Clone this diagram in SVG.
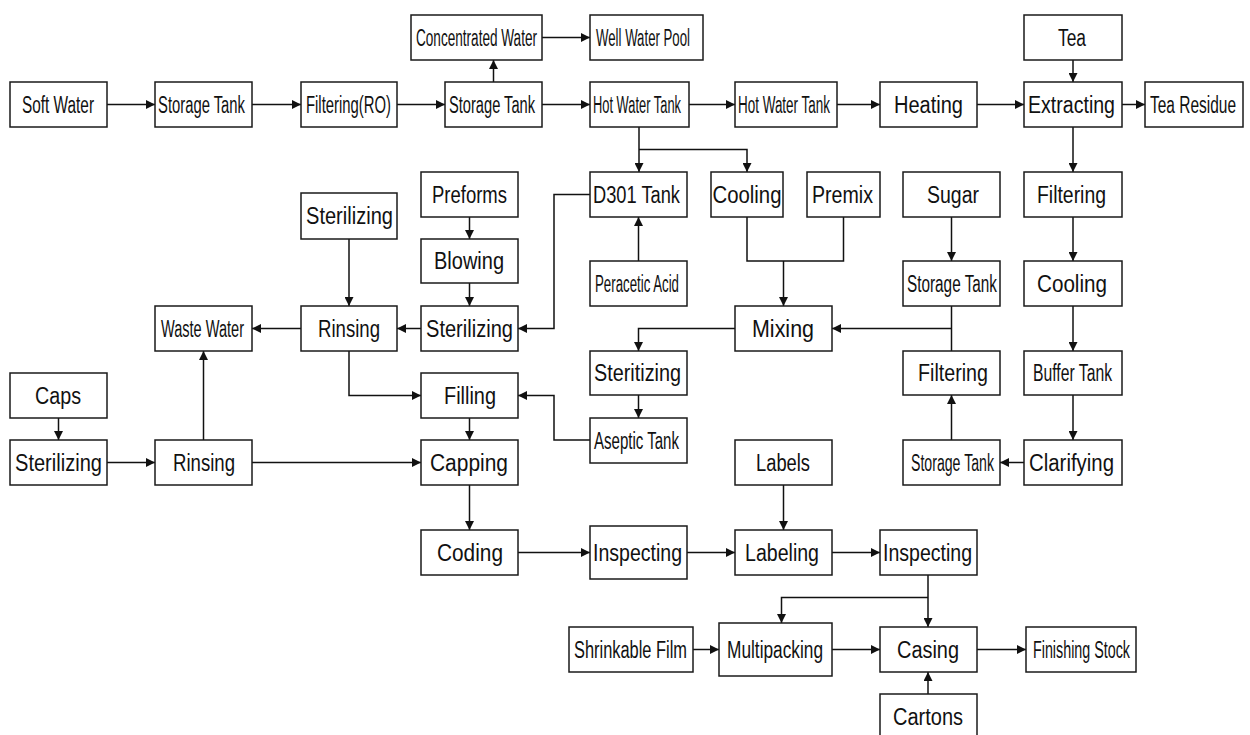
<svg xmlns="http://www.w3.org/2000/svg" width="1250" height="735" viewBox="0 0 1250 735">
<style>
.n rect{fill:#fff;stroke:#1a1a1a;stroke-width:1.5}
.n text{font-family:"Liberation Sans","DejaVu Sans",sans-serif;font-size:23px;fill:#111}
#connectors path{fill:none;stroke:#111;stroke-width:1.5}
#connectors path.a{marker-end:url(#arr)}
</style>
<defs>
<marker id="arr" viewBox="0 0 10 10" refX="10" refY="5" markerWidth="9" markerHeight="9" markerUnits="userSpaceOnUse" orient="auto">
<path d="M0,0 L10,5 L0,10 z" fill="#111"/>
</marker>
</defs>
<rect width="1250" height="735" fill="#fff"/>
<g id="connectors">
<path class="a" d="M107,104.5 H155"/>
<path class="a" d="M252,104.5 H301"/>
<path class="a" d="M397,104.5 H445"/>
<path class="a" d="M493.5,82 V60"/>
<path class="a" d="M542,37.5 H590"/>
<path class="a" d="M542,104.5 H590"/>
<path class="a" d="M689,104.5 H735"/>
<path class="a" d="M837,104.5 H880"/>
<path class="a" d="M977,104.5 H1024"/>
<path class="a" d="M1122,104.5 H1145"/>
<path class="a" d="M1073,60 V82"/>
<path class="a" d="M1073,127 V172"/>
<path class="a" d="M1073,217 V261"/>
<path class="a" d="M1073,306 V351"/>
<path class="a" d="M1073,395 V440"/>
<path class="a" d="M1024,462.5 H1000"/>
<path class="a" d="M951.5,440 V395"/>
<path class="a" d="M951.5,217 V261"/>
<path d="M951.5,306 V351"/>
<path class="a" d="M951.5,328.5 H832"/>
<path d="M747,217 V261 H843.5 V217"/>
<path class="a" d="M783.5,261 V306"/>
<path class="a" d="M639,127 V172"/>
<path class="a" d="M639,149.5 H747 V172"/>
<path class="a" d="M590,194.5 H554 V328.5 H518"/>
<path class="a" d="M638.5,261 V217"/>
<path class="a" d="M469.5,217 V239"/>
<path class="a" d="M469.5,283 V306"/>
<path class="a" d="M421,328.5 H397"/>
<path class="a" d="M349,239 V306"/>
<path class="a" d="M301,328.5 H252"/>
<path class="a" d="M349,351 V395.5 H421"/>
<path class="a" d="M58.5,418 V440"/>
<path class="a" d="M107,462.5 H155"/>
<path class="a" d="M203.5,440 V351"/>
<path class="a" d="M252,462.5 H421"/>
<path class="a" d="M469.5,418 V440"/>
<path class="a" d="M590,440 H554 V395.5 H518"/>
<path class="a" d="M735,328.5 H638.5 V351"/>
<path class="a" d="M638.5,395 V418"/>
<path class="a" d="M469.5,485 V530"/>
<path class="a" d="M518,552.5 H590"/>
<path class="a" d="M687,552.5 H735"/>
<path class="a" d="M783.5,485 V530"/>
<path class="a" d="M832,552.5 H880"/>
<path class="a" d="M928,575 V627"/>
<path class="a" d="M928,597.5 H781.5 V623"/>
<path class="a" d="M693,649.5 H719"/>
<path class="a" d="M832,649.5 H880"/>
<path class="a" d="M977,649.5 H1026"/>
<path class="a" d="M928,694 V672"/>
</g>
<g id="soft-water" class="n"><rect x="10" y="82" width="97" height="45"/><text x="22" y="112.5" textLength="72" lengthAdjust="spacingAndGlyphs">Soft Water</text></g>
<g id="storage-tank-1" class="n"><rect x="155" y="82" width="97" height="45"/><text x="158" y="112.5" textLength="87" lengthAdjust="spacingAndGlyphs">Storage Tank</text></g>
<g id="filtering-ro" class="n"><rect x="301" y="82" width="96" height="45"/><text x="306" y="112.5" textLength="85" lengthAdjust="spacingAndGlyphs">Filtering(RO)</text></g>
<g id="storage-tank-2" class="n"><rect x="445" y="82" width="97" height="45"/><text x="449" y="112.5" textLength="86" lengthAdjust="spacingAndGlyphs">Storage Tank</text></g>
<g id="concentrated-water" class="n"><rect x="411" y="15" width="131" height="45"/><text x="416" y="45.5" textLength="121" lengthAdjust="spacingAndGlyphs">Concentrated Water</text></g>
<g id="well-water-pool" class="n"><rect x="590" y="15" width="113" height="45"/><text x="596" y="45.5" textLength="94" lengthAdjust="spacingAndGlyphs">Well Water Pool</text></g>
<g id="hot-water-tank-1" class="n"><rect x="590" y="82" width="99" height="45"/><text x="593" y="112.5" textLength="88" lengthAdjust="spacingAndGlyphs">Hot Water Tank</text></g>
<g id="hot-water-tank-2" class="n"><rect x="735" y="82" width="102" height="45"/><text x="738" y="112.5" textLength="92" lengthAdjust="spacingAndGlyphs">Hot Water Tank</text></g>
<g id="heating" class="n"><rect x="880" y="82" width="97" height="45"/><text x="894" y="112.5" textLength="69" lengthAdjust="spacingAndGlyphs">Heating</text></g>
<g id="extracting" class="n"><rect x="1024" y="82" width="98" height="45"/><text x="1028" y="112.5" textLength="87" lengthAdjust="spacingAndGlyphs">Extracting</text></g>
<g id="tea" class="n"><rect x="1024" y="15" width="98" height="45"/><text x="1058" y="45.5" textLength="28" lengthAdjust="spacingAndGlyphs">Tea</text></g>
<g id="tea-residue" class="n"><rect x="1145" y="82" width="98" height="45"/><text x="1150" y="112.5" textLength="86" lengthAdjust="spacingAndGlyphs">Tea Residue</text></g>
<g id="filtering-tea" class="n"><rect x="1024" y="172" width="98" height="45"/><text x="1037" y="202.5" textLength="69" lengthAdjust="spacingAndGlyphs">Filtering</text></g>
<g id="cooling-tea" class="n"><rect x="1024" y="261" width="98" height="45"/><text x="1037" y="291.5" textLength="70" lengthAdjust="spacingAndGlyphs">Cooling</text></g>
<g id="buffer-tank" class="n"><rect x="1024" y="351" width="98" height="44"/><text x="1033" y="381" textLength="79" lengthAdjust="spacingAndGlyphs">Buffer Tank</text></g>
<g id="clarifying" class="n"><rect x="1024" y="440" width="98" height="45"/><text x="1029" y="470.5" textLength="85" lengthAdjust="spacingAndGlyphs">Clarifying</text></g>
<g id="sugar" class="n"><rect x="903" y="172" width="97" height="45"/><text x="927" y="202.5" textLength="52" lengthAdjust="spacingAndGlyphs">Sugar</text></g>
<g id="storage-tank-sugar" class="n"><rect x="903" y="261" width="97" height="45"/><text x="907" y="291.5" textLength="90" lengthAdjust="spacingAndGlyphs">Storage Tank</text></g>
<g id="filtering-sugar" class="n"><rect x="903" y="351" width="97" height="44"/><text x="918" y="381" textLength="70" lengthAdjust="spacingAndGlyphs">Filtering</text></g>
<g id="storage-tank-3" class="n"><rect x="903" y="440" width="97" height="45"/><text x="911" y="470.5" textLength="83" lengthAdjust="spacingAndGlyphs">Storage Tank</text></g>
<g id="d301-tank" class="n"><rect x="590" y="172" width="97" height="45"/><text x="593" y="202.5" textLength="87" lengthAdjust="spacingAndGlyphs">D301 Tank</text></g>
<g id="cooling-mid" class="n"><rect x="711" y="172" width="72" height="45"/><text x="712.5" y="202.5" textLength="69" lengthAdjust="spacingAndGlyphs">Cooling</text></g>
<g id="premix" class="n"><rect x="807" y="172" width="73" height="45"/><text x="812" y="202.5" textLength="61" lengthAdjust="spacingAndGlyphs">Premix</text></g>
<g id="peracetic-acid" class="n"><rect x="590" y="261" width="97" height="45"/><text x="595" y="291.5" textLength="84" lengthAdjust="spacingAndGlyphs">Peracetic Acid</text></g>
<g id="mixing" class="n"><rect x="735" y="306" width="97" height="45"/><text x="752" y="336.5" textLength="62" lengthAdjust="spacingAndGlyphs">Mixing</text></g>
<g id="steritizing" class="n"><rect x="590" y="351" width="97" height="44"/><text x="594" y="381" textLength="87" lengthAdjust="spacingAndGlyphs">Steritizing</text></g>
<g id="aseptic-tank" class="n"><rect x="590" y="418" width="97" height="45"/><text x="594" y="448.5" textLength="85" lengthAdjust="spacingAndGlyphs">Aseptic Tank</text></g>
<g id="labels" class="n"><rect x="735" y="440" width="97" height="45"/><text x="756" y="470.5" textLength="54" lengthAdjust="spacingAndGlyphs">Labels</text></g>
<g id="preforms" class="n"><rect x="421" y="172" width="97" height="45"/><text x="432" y="202.5" textLength="75" lengthAdjust="spacingAndGlyphs">Preforms</text></g>
<g id="blowing" class="n"><rect x="421" y="239" width="97" height="44"/><text x="434" y="269" textLength="70" lengthAdjust="spacingAndGlyphs">Blowing</text></g>
<g id="sterilizing-bottle" class="n"><rect x="421" y="306" width="97" height="45"/><text x="426" y="336.5" textLength="87" lengthAdjust="spacingAndGlyphs">Sterilizing</text></g>
<g id="filling" class="n"><rect x="421" y="373" width="97" height="45"/><text x="444" y="403.5" textLength="52" lengthAdjust="spacingAndGlyphs">Filling</text></g>
<g id="capping" class="n"><rect x="421" y="440" width="97" height="45"/><text x="430" y="470.5" textLength="78" lengthAdjust="spacingAndGlyphs">Capping</text></g>
<g id="coding" class="n"><rect x="421" y="530" width="97" height="45"/><text x="437" y="560.5" textLength="66" lengthAdjust="spacingAndGlyphs">Coding</text></g>
<g id="inspecting-1" class="n"><rect x="590" y="526" width="97" height="53"/><text x="593" y="560.5" textLength="89" lengthAdjust="spacingAndGlyphs">Inspecting</text></g>
<g id="labeling" class="n"><rect x="735" y="530" width="97" height="45"/><text x="745" y="560.5" textLength="74" lengthAdjust="spacingAndGlyphs">Labeling</text></g>
<g id="inspecting-2" class="n"><rect x="880" y="530" width="97" height="45"/><text x="883" y="560.5" textLength="89" lengthAdjust="spacingAndGlyphs">Inspecting</text></g>
<g id="multipacking" class="n"><rect x="719" y="623" width="113" height="53"/><text x="727" y="657.5" textLength="96" lengthAdjust="spacingAndGlyphs">Multipacking</text></g>
<g id="shrinkable-film" class="n"><rect x="569" y="627" width="124" height="45"/><text x="574" y="657.5" textLength="113" lengthAdjust="spacingAndGlyphs">Shrinkable Film</text></g>
<g id="casing" class="n"><rect x="880" y="627" width="97" height="45"/><text x="897" y="657.5" textLength="62" lengthAdjust="spacingAndGlyphs">Casing</text></g>
<g id="finishing-stock" class="n"><rect x="1026" y="627" width="110" height="45"/><text x="1033" y="657.5" textLength="97" lengthAdjust="spacingAndGlyphs">Finishing Stock</text></g>
<g id="cartons" class="n"><rect x="880" y="694" width="97" height="45"/><text x="893" y="724.5" textLength="70" lengthAdjust="spacingAndGlyphs">Cartons</text></g>
<g id="sterilizing-water" class="n"><rect x="301" y="193" width="96" height="46"/><text x="306" y="224" textLength="87" lengthAdjust="spacingAndGlyphs">Sterilizing</text></g>
<g id="rinsing-bottle" class="n"><rect x="301" y="306" width="96" height="45"/><text x="318" y="336.5" textLength="62" lengthAdjust="spacingAndGlyphs">Rinsing</text></g>
<g id="waste-water" class="n"><rect x="155" y="306" width="97" height="45"/><text x="161" y="336.5" textLength="83" lengthAdjust="spacingAndGlyphs">Waste Water</text></g>
<g id="caps" class="n"><rect x="10" y="373" width="97" height="45"/><text x="35" y="403.5" textLength="46" lengthAdjust="spacingAndGlyphs">Caps</text></g>
<g id="sterilizing-caps" class="n"><rect x="10" y="440" width="97" height="45"/><text x="15" y="470.5" textLength="87" lengthAdjust="spacingAndGlyphs">Sterilizing</text></g>
<g id="rinsing-caps" class="n"><rect x="155" y="440" width="97" height="45"/><text x="173" y="470.5" textLength="62" lengthAdjust="spacingAndGlyphs">Rinsing</text></g>
</svg>
